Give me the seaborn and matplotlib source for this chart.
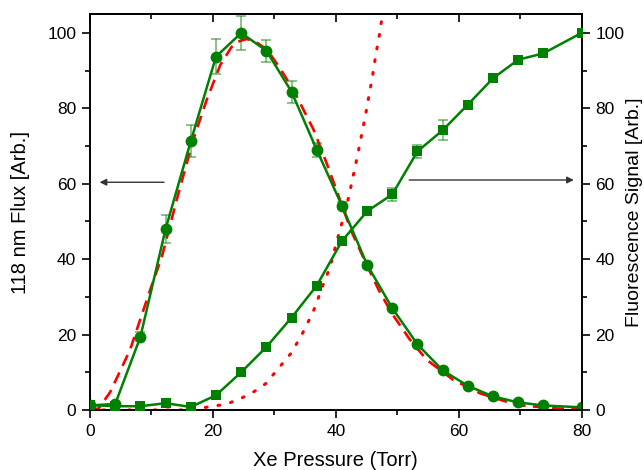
import matplotlib
matplotlib.use("Agg")
import matplotlib.pyplot as plt
import numpy as np
import pandas as pd
import seaborn as sns

# Xe pressure steps (Torr)
pressure = [0, 4.1, 8.2, 12.3, 16.4, 20.5, 24.6, 28.7, 32.8, 36.9, 41.0,
            45.1, 49.2, 53.3, 57.4, 61.5, 65.6, 69.7, 73.8, 80.0]

# 118 nm flux (left axis), circles
flux = [1.2, 1.6, 19.4, 48.0, 71.3, 93.7, 100.0, 95.3, 84.4, 69.0, 54.2,
        38.5, 27.0, 17.4, 10.5, 6.4, 3.6, 2.0, 1.2, 0.7]
flux_err = [0.3, 0.5, 1.2, 3.8, 4.2, 4.6, 4.4, 2.9, 2.9, 1.9, 1.0,
            0.8, 0.5, 0.4, 0.3, 0.3, 0.3, 0.3, 0.3, 0.3]

# fluorescence signal (right axis), squares
fluor = [1.3, 1.0, 1.0, 1.8, 0.8, 3.9, 10.0, 16.7, 24.5, 33.0, 44.8,
         52.7, 57.2, 68.6, 74.2, 81.0, 88.0, 92.9, 94.6, 100.0]
fluor_err = [0.3, 0.3, 0.3, 0.3, 0.3, 0.3, 0.3, 0.3, 0.3, 0.4, 0.5,
             0.6, 1.7, 1.8, 2.7, 0.5, 0.4, 0.4, 0.4, 0.4]

# dashed red fit through the flux data
fit_x = [0, 1.4, 3.3, 6.5, 9.8, 11.7, 14.1, 16.8, 19.0, 21.2, 23.0, 23.9,
         25.5, 27.0, 28.8, 30.9, 33.1, 36.4, 38.5, 40.4, 42.5, 45.0, 47.0,
         49.1, 52.0, 54.8, 59.1, 63.5, 69.5, 76.0, 80.0]
fit_flux = [0.0, 0.4, 4.8, 15.9, 31.9, 40.7, 55.7, 71.7, 82.3, 91.5, 96.2, 97.6,
            98.4, 97.6, 95.6, 90.7, 84.9, 74.3, 65.5, 57.0, 47.5, 38.6, 31.8,
            25.7, 18.8, 13.3, 8.0, 4.4, 1.3, 0.4, 0.2]

# dotted red curve
dot_x = [0, 16.0, 17.9, 19.5, 21.2, 22.9, 24.3, 25.9, 27.3, 28.6, 30.8, 32.8,
         34.6, 36.0, 36.8, 37.5, 39.1, 39.9, 40.8, 41.3, 42.1, 42.8, 43.5,
         44.8, 45.4, 46.0, 46.5, 47.1, 47.6, 48.0]
dot_y = [0.0, 0.0, 0.4, 0.9, 1.3, 2.0, 2.9, 4.1, 5.5, 7.0, 11.3, 15.2,
         20.4, 25.0, 27.9, 31.4, 38.0, 43.1, 48.5, 51.3, 56.5, 61.8, 67.2,
         77.9, 83.4, 88.7, 94.1, 99.5, 104.9, 109.0]

green = "#008000"
red = "#ff0000"

sns.set_style("ticks")
plt.rcParams["font.family"] = ["Liberation Sans", "DejaVu Sans"]
for k in ("text.color", "axes.labelcolor", "xtick.color", "ytick.color"):
    plt.rcParams[k] = "black"

fig, ax = plt.subplots(figsize=(6.44, 4.70), dpi=100)
fig.subplots_adjust(left=0.1398, right=0.903, bottom=0.1277, top=0.970)
ax2 = ax.twinx()

df = pd.DataFrame({"p": pressure, "flux": flux, "fluor": fluor})

# fits
sns.lineplot(x=fit_x, y=fit_flux, ax=ax, color=red, lw=1.9, sort=False,
             linestyle=(0, (4.5, 2.8)), zorder=3)
dotted = sns.lineplot(x=dot_x, y=dot_y, ax=ax, color=red, lw=2.2, sort=False,
                      linestyle=(0, (0.6, 3.6)), zorder=3)
dotted.lines[-1].set_dash_capstyle("round")

# data with error bars
ax.errorbar(pressure, flux, yerr=flux_err, fmt="none", ecolor=green,
            alpha=0.5, elinewidth=1.3, capsize=3.5, capthick=1.3, zorder=4)
sns.lineplot(data=df, x="p", y="flux", ax=ax, color=green, lw=1.8,
             marker="o", markersize=8.5, markeredgewidth=0, zorder=5)

ax2.errorbar(pressure, fluor, yerr=fluor_err, fmt="none", ecolor=green,
             alpha=0.5, elinewidth=1.3, capsize=3.5, capthick=1.3, zorder=4)
sns.lineplot(data=df, x="p", y="fluor", ax=ax2, color=green, lw=1.8,
             marker="s", markersize=7.5, markeredgewidth=0, zorder=5)

# arrows pointing to the respective axes
ax.annotate("", xy=(1.1, 60.4), xytext=(12.5, 60.4),
            arrowprops=dict(arrowstyle="-|>", color="#333333", lw=1.0,
                            mutation_scale=10))
ax.annotate("", xy=(79.2, 61.0), xytext=(51.5, 61.0),
            arrowprops=dict(arrowstyle="-|>", color="#333333", lw=1.0,
                            mutation_scale=10))

for a in (ax, ax2):
    a.set_xlim(0, 80)
    a.set_ylim(0, 105)
    a.set_yticks([0, 20, 40, 60, 80, 100])
    a.set_yticks([10, 30, 50, 70, 90], minor=True)
    for s in a.spines.values():
        s.set_linewidth(1.2)
        s.set_color("black")

ax.set_xticks([0, 20, 40, 60, 80])
ax.set_xticks([10, 30, 50, 70], minor=True)
ax.tick_params(axis="both", which="major", length=6, width=1.2, labelsize=12.5,
               direction="out", pad=4, color="black")
ax.tick_params(axis="both", which="minor", length=3.5, width=1.2,
               direction="out", color="black")
ax2.tick_params(axis="y", which="major", length=6, width=1.2, labelsize=12.5,
                direction="out", pad=4, color="black")
ax2.tick_params(axis="y", which="minor", length=3.5, width=1.2,
                direction="out", color="black")

# ticks on the top edge point inwards
sec = ax.secondary_xaxis("top")
sec.set_xticks([0, 20, 40, 60, 80])
sec.set_xticks([10, 30, 50, 70], minor=True)
sec.tick_params(which="major", direction="in", length=6, width=1.2, labeltop=False)
sec.tick_params(which="minor", direction="in", length=3.5, width=1.2)
sec.spines["top"].set_linewidth(1.2)
ax.tick_params(axis="x", which="both", top=False)

ax.set_xlabel("Xe Pressure (Torr)", fontsize=14.5, labelpad=9)
ax.set_ylabel("118 nm Flux [Arb.]", fontsize=14.5, labelpad=12)
ax2.set_ylabel("Fluorescence Signal [Arb.]", fontsize=14, labelpad=1)

fig.savefig("out.png", dpi=100)
